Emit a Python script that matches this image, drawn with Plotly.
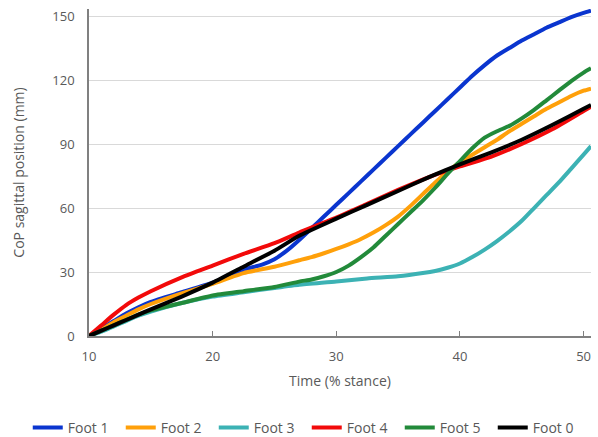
import plotly.graph_objects as go

# Time (% stance) and CoP sagittal position (mm) per foot
t_foot1 = [10, 11, 12, 13, 14, 15, 17.5, 20, 22.5, 24, 25, 26, 27, 28, 29, 30, 31, 32, 33, 34, 35, 36, 37, 38, 39, 40, 41, 42, 43, 44, 45, 46, 47, 48, 49, 50, 50.6]
foot1 = [0, 3.5, 7, 10.5, 13.5, 16, 20.5, 25, 31, 33.5, 36, 40, 45, 50.5, 56, 61.5, 67, 72.5, 78, 83.5, 89, 94.5, 100, 105.5, 111, 116.5, 122, 127, 131.5, 135, 138.5, 141.5, 144.5, 147, 149.5, 151.5, 152.5]

t_foot2 = [10, 11, 12, 13, 14, 15, 17.5, 20, 22.5, 25, 27, 28, 29, 30, 31, 32, 33, 34, 35, 36, 37, 38, 39, 40, 41, 42, 43, 44, 45, 46, 47, 48, 49, 50, 50.6]
foot2 = [0, 3, 6.5, 9.5, 12.5, 15, 20, 24.5, 29.5, 32.5, 35.5, 37, 38.8, 40.8, 43, 45.5, 48.5, 52, 56, 61, 66.5, 72, 77, 81.5, 85, 88.5, 92, 96, 99.5, 103, 106.5, 109.5, 112.5, 115, 116]

t_foot3 = [10, 11, 12, 13, 14, 15, 17.5, 20, 22.5, 25, 27, 30, 32.5, 35, 37, 38, 39, 40, 41, 42, 43, 44, 45, 46, 47, 48, 49, 50, 50.6]
foot3 = [0, 2, 4.5, 7, 9.5, 11.5, 15.5, 18.5, 20.5, 22.5, 24, 25.5, 27, 28, 29.5, 30.5, 32, 34, 37, 40.5, 44.5, 49, 54, 60, 66, 72, 78.5, 85, 89]

t_foot4 = [10, 11, 12, 13, 14, 15, 17.5, 20, 22.5, 25, 27, 30, 32.5, 35, 37.5, 40, 42.5, 45, 47.5, 50, 50.6]
foot4 = [0, 5, 10, 14.5, 18, 21, 27.5, 33, 38.5, 43.5, 48.5, 55.5, 62, 68.5, 74.5, 79.5, 84, 90, 97, 105.5, 107.5]

t_foot5 = [10, 11, 12, 13, 14, 15, 17.5, 20, 22.5, 25, 27, 28, 29, 30, 31, 32, 33, 34, 35, 36, 37, 38, 39, 40, 41, 42, 43, 44, 45, 46, 47, 48, 49, 50, 50.6]
foot5 = [0, 2.5, 5, 7.5, 10, 12, 15.5, 19, 21, 23, 25.5, 26.5, 28, 30, 33, 37, 41.5, 47, 52.5, 58, 63.5, 69.5, 76, 82, 88, 93, 96, 98.5, 102, 106, 110.5, 115, 119.5, 123.5, 125.5]

t_foot0 = [10, 11, 12, 13, 14, 15, 17.5, 20, 22.5, 25, 27, 30, 32.5, 35, 37.5, 40, 42.5, 45, 47.5, 50, 50.6]
foot0 = [0, 2.5, 5, 7.5, 10, 12.5, 18.5, 25, 32.5, 40, 47, 55, 61.5, 68, 74.5, 80.5, 86, 92, 99, 106.5, 108.3]

series = [
    ("Foot 1", t_foot1, foot1, "#0a35cf"),
    ("Foot 2", t_foot2, foot2, "#ffa00a"),
    ("Foot 3", t_foot3, foot3, "#3cb2b4"),
    ("Foot 4", t_foot4, foot4, "#f20a0a"),
    ("Foot 5", t_foot5, foot5, "#228a3a"),
    ("Foot 0", t_foot0, foot0, "#000000"),
]

x_ticks = [10, 20, 30, 40, 50]
y_ticks = [0, 30, 60, 90, 120, 150]

fig = go.Figure()
for name, t, v, c in series:
    fig.add_trace(go.Scatter(x=t, y=v, mode="lines", name=name,
                             line=dict(color=c, width=4, shape="spline", smoothing=0.5)))

font_gray = "#595959"
fig.update_layout(
    width=598, height=437,
    margin=dict(l=89, r=7, t=9, b=101, autoexpand=False),
    plot_bgcolor="white", paper_bgcolor="white",
    font=dict(family="Open Sans, sans-serif", size=13, color=font_gray),
    legend=dict(orientation="h", x=-0.122, xanchor="left", y=-0.281, yanchor="middle",
                font=dict(size=14, color=font_gray), itemwidth=30, tracegroupgap=0,
                entrywidth=48),
    xaxis=dict(range=[10, 50.6], tickvals=x_ticks, showgrid=False, zeroline=False,
               showline=True, linecolor="#808080", linewidth=1.5, automargin=False,
               ticks="inside", ticklen=5, tickcolor="#808080", ticklabelstandoff=8,
               title=dict(text="Time (% stance)", standoff=12, font=dict(size=14, color=font_gray))),
    yaxis=dict(range=[0, 153.3], tickvals=y_ticks, showgrid=True, gridcolor="#d9d9d9",
               zeroline=False, showline=True, linecolor="#808080", linewidth=1.5, automargin=False,
               ticks="", ticklabelstandoff=10,
               title=dict(text="CoP sagittal position (mm)", standoff=24, font=dict(size=14, color=font_gray))),
)

fig.write_html("out.html", config={"displayModeBar": False},
               post_script="document.body.style.margin='0';document.body.style.overflow='hidden';")
